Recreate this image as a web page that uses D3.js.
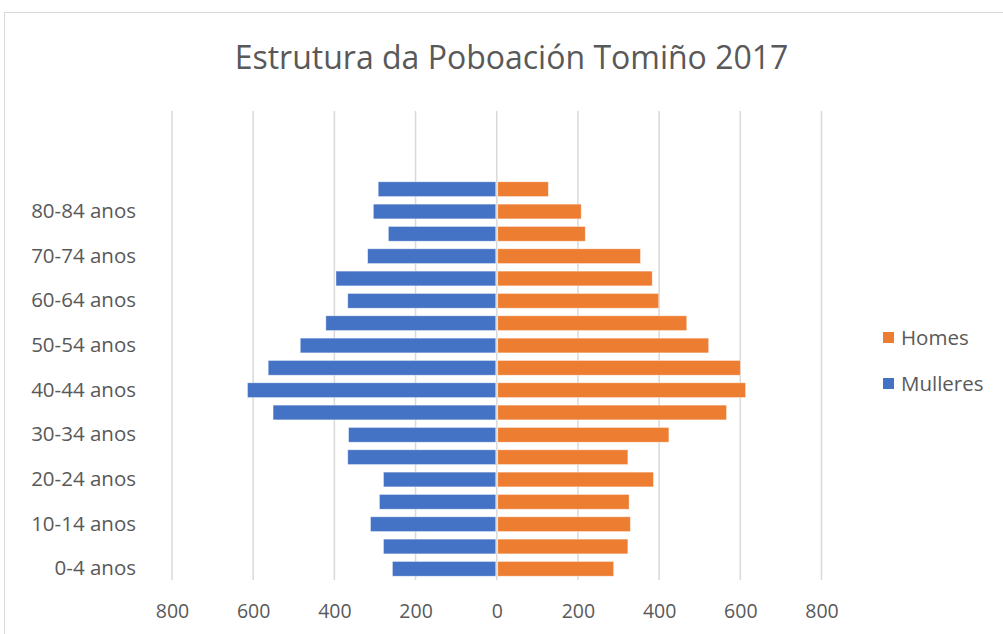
<!DOCTYPE html>
<html>
<head>
<meta charset="utf-8">
<script src="https://cdn.jsdelivr.net/npm/d3@7"></script>
<style>
  html, body { margin: 0; padding: 0; background: #fff; }
  svg { display: block; font-family: "Open Sans", sans-serif; }
</style>
</head>
<body>
<svg id="chart" width="1003" height="634"></svg>
<script>
// Age groups, bottom to top
const ageGroups = ["0-4 anos","5-9 anos","10-14 anos","15-19 anos","20-24 anos","25-29 anos",
  "30-34 anos","35-39 anos","40-44 anos","45-49 anos","50-54 anos","55-59 anos",
  "60-64 anos","65-69 anos","70-74 anos","75-79 anos","80-84 anos","85 e máis"];
const emptySlots = 3; // empty category slots above the top group
const homes    = [288, 323, 329, 326, 386, 323, 424, 566, 613, 600, 522, 468, 399, 383, 354, 218, 208, 127];
const mulleres = [257, 279, 311, 289, 279, 367, 365, 551, 614, 563, 484, 421, 367, 396, 318, 267, 304, 292];
const xTicks = [-800, -600, -400, -200, 0, 200, 400, 600, 800];
const seriesNames = ["Homes", "Mulleres"];
const colors = {Homes: "#ED7D31", Mulleres: "#4472C4"};
const title = "Estrutura da Poboación Tomiño 2017";

const svg = d3.select("#chart");
const W = 1003, H = 634;
const plot = {left: 172, right: 821.5, top: 111, bottom: 580};

// chart border
svg.append("rect").attr("x", 4.5).attr("y", 12.5).attr("width", W + 10).attr("height", H + 10)
  .attr("fill", "#fff").attr("stroke", "#d9d9d9").attr("stroke-width", 1);

const x = d3.scaleLinear().domain([-800, 800]).range([plot.left, plot.right]);
const slots = d3.range(ageGroups.length + emptySlots);
const y = d3.scaleBand().domain(slots).range([plot.bottom, plot.top]).paddingInner(0.34).paddingOuter(0.17);

// title
svg.append("text").attr("x", 511.5).attr("y", 69).attr("text-anchor", "middle")
  .attr("font-size", 32).attr("fill", "#595959").text(title);

// gridlines
svg.append("g").selectAll("line").data(xTicks).join("line")
  .attr("x1", d => x(d)).attr("x2", d => x(d))
  .attr("y1", plot.top).attr("y2", plot.bottom)
  .attr("stroke", "#d9d9d9").attr("stroke-width", 1.5);

// x axis
const xAxis = d3.axisBottom(x).tickValues(xTicks).tickFormat(d => Math.abs(d)).tickSize(0).tickPadding(0);
const gx = svg.append("g").attr("transform", `translate(0,${plot.bottom + 36})`).call(xAxis);
gx.select(".domain").remove();
gx.selectAll("text").attr("font-size", 19.5).attr("fill", "#595959").attr("font-family", "Open Sans")
  .attr("dy", "0.1em");

// y axis (labels every other group)
const yAxis = d3.axisLeft(y)
  .tickValues(slots.filter(i => i < ageGroups.length && i % 2 === 0))
  .tickFormat(i => ageGroups[i]).tickSize(0).tickPadding(0);
const gy = svg.append("g").attr("transform", `translate(136,0)`).call(yAxis);
gy.select(".domain").remove();
gy.selectAll("text").attr("font-size", 20.5).attr("fill", "#595959").attr("font-family", "Open Sans");

// bars
const idx = d3.range(ageGroups.length);
svg.append("g").selectAll("rect").data(idx).join("rect")
  .attr("x", i => x(-mulleres[i])).attr("width", i => x(0) - x(-mulleres[i]) - 1)
  .attr("y", i => y(i)).attr("height", y.bandwidth())
  .attr("fill", colors.Mulleres).attr("stroke", "#fff").attr("stroke-opacity", 0.5).attr("stroke-width", 0.75);
svg.append("g").selectAll("rect").data(idx).join("rect")
  .attr("x", x(0) + 1).attr("width", i => x(homes[i]) - x(0) - 1)
  .attr("y", i => y(i)).attr("height", y.bandwidth())
  .attr("fill", colors.Homes).attr("stroke", "#fff").attr("stroke-opacity", 0.5).attr("stroke-width", 0.75);

// legend
const lg = svg.append("g").attr("transform", "translate(883,332)");
const items = lg.selectAll("g").data(seriesNames).join("g")
  .attr("transform", (d, i) => `translate(0,${i * 46})`);
items.append("rect").attr("width", 11).attr("height", 11).attr("fill", d => colors[d]);
items.append("text").attr("x", 18).attr("y", 5.5).attr("dy", "0.35em")
  .attr("font-size", 20.5).attr("fill", "#595959").text(d => d);
</script>
</body>
</html>
